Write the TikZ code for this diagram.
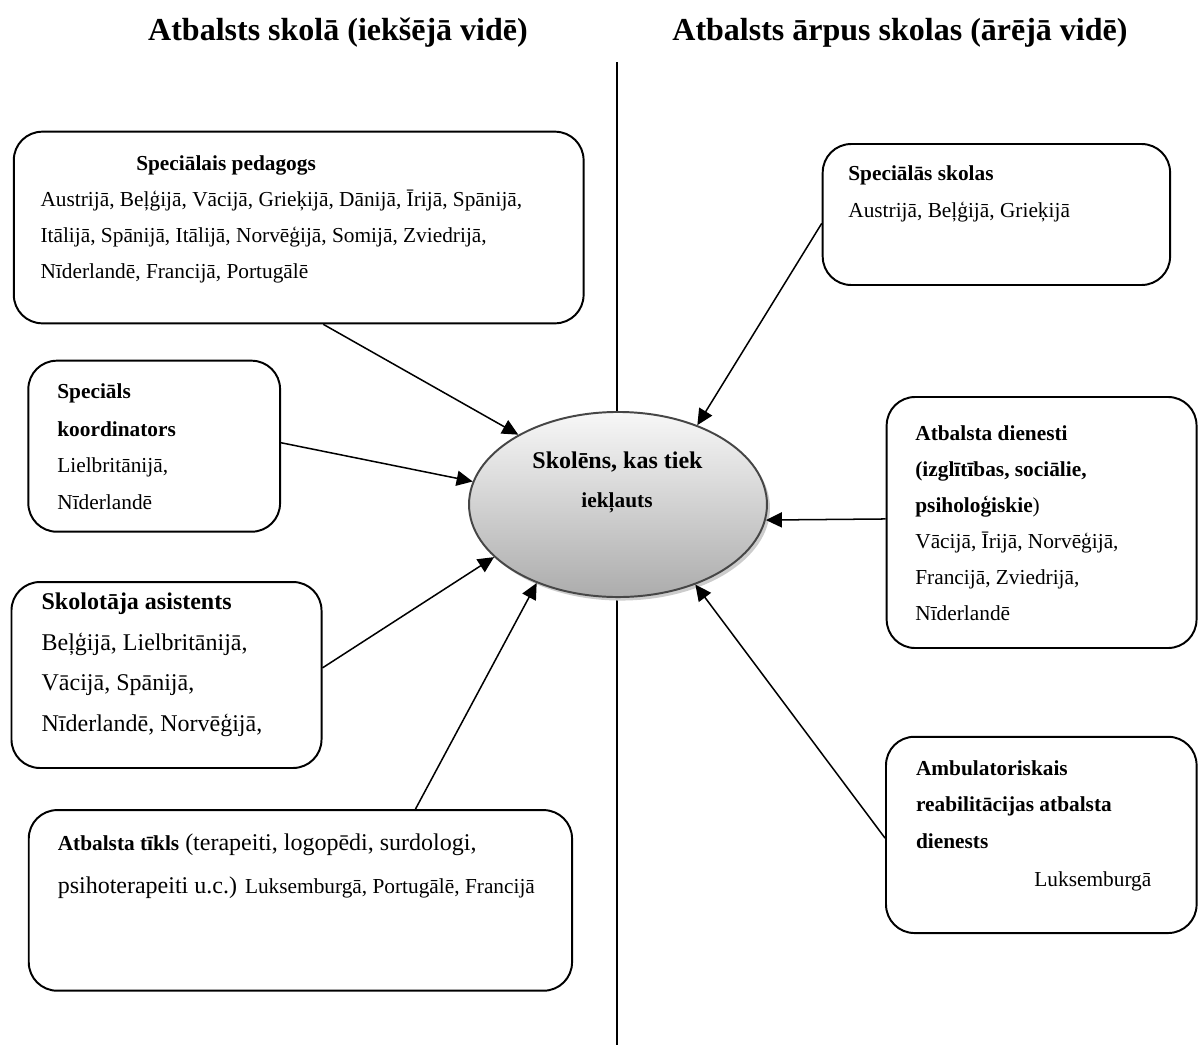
\documentclass[tikz,border=0pt]{standalone}
\usepackage{fontspec}
\setmainfont{Liberation Serif}
\usetikzlibrary{arrows.meta,shapes.geometric,calc}
\newcommand\fszA{\fontsize{12}{14}\selectfont}
\newcommand\fszB{\fontsize{13.5}{16}\selectfont}
\newcommand\fszH{\fontsize{18}{22}\selectfont}
\begin{document}
\begin{tikzpicture}[x=0.5625pt,y=-0.5625pt,
  txt/.style={anchor=base west, inner sep=0pt, font=\fszA},
  txtb/.style={txt, font=\fszA\bfseries},
  txtc/.style={anchor=base west, inner sep=0pt, font=\fszB},
  txtcb/.style={txtc, font=\fszB\bfseries},
  head/.style={anchor=base, inner sep=0pt, font=\fszH\bfseries},
  box/.style={draw, line width=1.1pt, rounded corners=16pt, inner sep=0pt},
  arr/.style={-{Triangle[length=9pt,width=8.5pt]}, line width=0.85pt},
  vline/.style={line width=0.8pt}]
\useasboundingbox (0,0) rectangle (1198,1048);

% headings
\node[head] (h1) at (338,40.7) {Atbalsts skolā (iekšējā vidē)};
\node[head] (h2) at (900,40.7) {Atbalsts ārpus skolas (ārējā vidē)};

% divider
\coordinate (vtop) at (617,62);
\coordinate (vbot) at (617,1045);
\draw[vline] (vtop) -- (vbot);

% central ellipse
\node[ellipse, fill=gray!40, minimum width=167.6pt, minimum height=104.1pt, inner sep=0pt] (Sshadow) at (621,508) {};
\node[ellipse, draw=gray!55!black, line width=1.1pt, top color=gray!6, bottom color=gray!65,
      minimum width=167.6pt, minimum height=104.1pt, inner sep=0pt] (S) at (618,504.5) {};
\node[anchor=base, inner sep=0pt, font=\fszB\bfseries] (s1) at (617.5,468) {Skolēns, kas tiek};
\node[anchor=base, inner sep=0pt, font=\fszA\bfseries] (s2) at (617,507.3) {iekļauts};

% boxes
\node[box, minimum width=320.5pt, minimum height=107.8pt] (A) at (298.7,227.5) {};
\node[box, minimum width=141.6pt, minimum height=96.2pt] (B) at (154.2,446.2) {};
\node[box, minimum width=174.4pt, minimum height=104.6pt] (C) at (166.5,675) {};
\node[box, minimum width=305.6pt, minimum height=101.6pt] (D) at (300.4,900.4) {};
\node[box, minimum width=195.4pt, minimum height=79.3pt] (E) at (996.4,214.5) {};
\node[box, minimum width=174.3pt, minimum height=141.2pt] (F) at (1041.6,522.5) {};
\node[box, minimum width=174.7pt, minimum height=110.4pt] (G) at (1041.3,834.9) {};

% box A text
\node[txtb] (a0) at (135.9,170.7) {Speciālais pedagogs};
\node[txt] (a1) at (40.2,206.5) {Austrijā, Beļģijā, Vācijā, Grieķijā, Dānijā, Īrijā, Spānijā,};
\node[txt] (a2) at (40.2,242.5) {Itālijā, Spānijā, Itālijā, Norvēģijā, Somijā, Zviedrijā,};
\node[txt] (a3) at (40.2,278) {Nīderlandē, Francijā, Portugālē};

% box B text
\node[txtb] (b0) at (57,398.7) {Speciāls};
\node[txtb] (b1) at (57,436) {koordinators};
\node[txt] (b2) at (57,472.7) {Lielbritānijā,};
\node[txt] (b3) at (57,509) {Nīderlandē};

% box C text
\node[txtcb] (c0) at (41.3,609) {Skolotāja asistents};
\node[txtc] (c1) at (41.3,650) {Beļģijā, Lielbritānijā,};
\node[txtc] (c2) at (41.3,690) {Vācijā, Spānijā,};
\node[txtc] (c3) at (41.3,731.7) {Nīderlandē, Norvēģijā,};

% box D text
\node[txtc] (d0) at (57.4,850) {{\fszA\bfseries Atbalsta tīkls} (terapeiti, logopēdi, surdologi,};
\node[txtc] (d1) at (57.4,893) {psihoterapeiti u.c.) {\fszA Luksemburgā, Portugālē, Francijā}};

% box E text
\node[txtb] (e0) at (848,180.7) {Speciālās skolas};
\node[txt] (e1) at (848,217) {Austrijā, Beļģijā, Grieķijā};

% box F text
\node[txtb] (f0) at (915,440) {Atbalsta dienesti};
\node[txtb] (f1) at (915,476) {(izglītības, sociālie,};
\node[txt] (f2) at (915,512) {\textbf{psiholoģiskie})};
\node[txt] (f3) at (915,548) {Vācijā, Īrijā, Norvēģijā,};
\node[txt] (f4) at (915,584) {Francijā, Zviedrijā,};
\node[txt] (f5) at (915,620) {Nīderlandē};

% box G text
\node[txtb] (g0) at (915.7,775) {Ambulatoriskais};
\node[txtb] (g1) at (915.7,811.7) {reabilitācijas atbalsta};
\node[txtb] (g2) at (915.7,848) {dienests};
\node[anchor=base east, inner sep=0pt, font=\fszA] (g3) at (1151.7,886) {Luksemburgā};

% connectors
\draw[arr] ($(A.south west)!0.543!(A.south east)$) -- (S.145.6);
\draw[arr] ($(B.north east)!0.48!(B.south east)$) -- (S.171.4);
\draw[arr] ($(C.north east)!0.462!(C.south east)$) -- (S.203.4);
\draw[arr] ($(D.north west)!0.711!(D.north east)$) -- (S.224.8);
\draw[arr] ($(E.north west)!0.562!(E.south west)$) -- (S.45.9);
\draw[arr] ($(F.north west)!0.486!(F.south west)$) -- (S.354.8);
\draw[arr] ($(G.north west)!0.516!(G.south west)$) -- (S.314.5);
\end{tikzpicture}
\end{document}
